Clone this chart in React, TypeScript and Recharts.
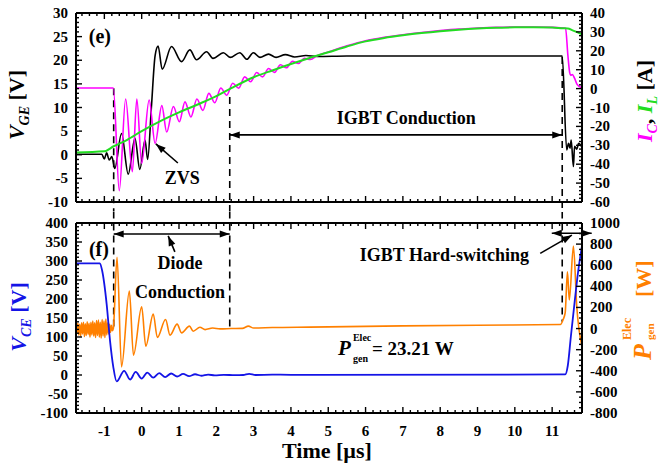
import React from "react";
import { LineChart, Line, XAxis, YAxis, ReferenceLine, ReferenceDot } from "recharts";

type Pt = [number, number];

// (e) gate voltage [V], left axis
const vGE: Pt[] = [
  [-1.76, 0.1], [-1.07, 0.1], [-1.0, -0.9], [-0.94, 0.4], [-0.87, -1.1], [-0.8, -0.4],
  [-0.72, -2.9], [-0.54, 4.5], [-0.36, -4.1], [-0.18, 3.5], [-0.05, -3.1], [0.09, 3.1],
  [0.16, -1.0], [0.26, 10], [0.36, 21], [0.44, 23], [0.55, 18.1], [0.8, 22.9],
  [1.07, 19.7], [1.29, 22.2], [1.47, 20.1], [1.74, 21.8], [1.91, 20.4], [2.19, 21.6],
  [2.37, 20.6], [2.63, 21.6], [2.82, 20.2], [2.99, 21.6], [3.17, 20.6], [3.4, 21.3],
  [3.6, 20.6], [3.85, 21.2], [4.1, 20.7], [4.4, 21.0], [4.7, 20.8], [5.5, 20.9],
  [11.27, 20.9], [11.39, 1.0], [11.44, 2.4], [11.48, 1.4], [11.51, 3.1], [11.57, -2.5],
  [11.6, 1.8], [11.66, 1.2], [11.71, 2.4], [11.8, 1.6],
];

// (e) collector current [A], right axis
const iC: Pt[] = [
  [-1.76, 0.3], [-0.76, 0.3], [-0.6, -54], [-0.43, -5.5], [-0.25, -44], [-0.13, -5.5],
  [0.0, -39.5], [0.2, -6], [0.36, -29], [0.54, -9], [0.67, -23], [0.85, -9.5],
  [1.01, -17.5], [1.16, -7], [1.32, -15], [1.48, -5.5], [1.64, -11.5], [1.8, -2.5],
  [1.96, -7.5], [2.12, 0.3], [2.28, -3.5], [2.44, 2.8], [2.6, 0.2], [2.76, 6.2],
  [2.92, 3.6], [3.08, 8.5], [3.24, 6.2], [3.4, 10.6], [3.56, 8.6], [3.72, 12.6],
  [3.88, 11], [4.04, 14.5], [4.2, 13.3], [4.36, 16], [4.52, 15.4], [4.7, 17.4],
  [5.0, 19.4], [5.5, 22.6], [6, 25.3], [6.5, 27.1], [7, 28.5], [7.5, 29.7], [8, 30.7],
  [8.5, 31.5], [9, 32], [9.5, 32.4], [10, 32.6], [10.5, 32.6], [11, 32.4], [11.36, 31.9],
  [11.42, 18], [11.47, 8.5], [11.5, 7], [11.54, 7.5], [11.6, 5.5], [11.66, 2.5],
  [11.72, 1.2], [11.8, 0.5],
];

// (e) inductor current [A], right axis
const iL: Pt[] = [
  [-1.76, -33.8], [-1.0, -33.2], [-0.75, -30.5], [-0.4, -27.2], [0.0, -22.5], [0.5, -17.2],
  [1.0, -12.6], [1.5, -8.4], [2.0, -4], [2.4, 0.2], [3, 6], [3.5, 9.6], [4, 13],
  [4.5, 16.2], [5, 19.2], [5.5, 22.3], [6, 25], [6.5, 26.8], [7, 28.2], [7.5, 29.4],
  [8, 30.4], [8.5, 31.2], [9, 31.8], [9.5, 32.2], [10, 32.4], [10.5, 32.5], [11, 32.3],
  [11.3, 31.9], [11.42, 31.8], [11.55, 30.8], [11.7, 29.6], [11.8, 28.7],
];

// (f) collector-emitter voltage [V], left axis
const vCE: Pt[] = [
  [-1.76, 294], [-1.12, 294], [-1.06, 275], [-0.94, 188], [-0.85, 92], [-0.76, 21],
  [-0.67, -17], [-0.47, 11], [-0.31, -12], [-0.16, 8], [0.0, -9.5], [0.15, 6.5],
  [0.31, -7], [0.47, 5], [0.63, -5.5], [0.79, 4], [0.95, -4], [1.11, 3], [1.27, -3],
  [1.43, 2], [1.6, -2], [1.78, 1.2], [1.96, -1.2], [2.2, 0.5], [2.5, -0.5], [2.72, 0],
  [2.88, 3], [3.05, 0], [3.5, 0.8], [4.5, 0.3], [11.35, 1.5], [11.42, 25], [11.5, 100],
  [11.6, 190], [11.7, 275], [11.8, 340],
];

// (f) generated electrical power [W], right axis
const pGen: Pt[] = [
  [-1.76, 30], [-1.735, -45], [-1.71, 50], [-1.685, -60], [-1.66, 40], [-1.635, -70],
  [-1.61, 55], [-1.585, -50], [-1.56, 60], [-1.535, -75], [-1.51, 45], [-1.485, -65],
  [-1.46, 65], [-1.435, -55], [-1.41, 50], [-1.385, -80], [-1.36, 60], [-1.335, -60],
  [-1.31, 70], [-1.285, -70], [-1.26, 55], [-1.235, -85], [-1.21, 75], [-1.185, -65],
  [-1.16, 80], [-1.135, -80], [-1.11, 60], [-1.085, -90], [-1.06, 85], [-1.035, -70],
  [-1.01, 70], [-0.985, -85], [-0.96, 90], [-0.935, -60], [-0.91, 55], [-0.885, -50],
  [-0.86, 40], [-0.835, -35], [-0.81, 30], [-0.785, -20], [-0.76, 0],
  [-0.66, 675], [-0.54, -363], [-0.33, 355], [-0.22, -252], [0.0, 206], [0.11, -167],
  [0.31, 137], [0.42, -84], [0.64, 86], [0.76, -62], [0.95, 42], [1.07, -41], [1.28, 23],
  [1.38, -25], [1.56, 12], [1.7, -10], [1.9, 5], [2.1, -3], [2.4, 0], [2.7, 2],
  [2.86, 23], [3.0, 5], [3.5, 10], [4.5, 14], [5.5, 18], [7, 25], [9, 32], [11.22, 38],
  [11.3, 90], [11.35, 150], [11.41, 538], [11.46, 270], [11.57, 782], [11.66, 206],
  [11.8, -173],
];

const xLabels = [-1, 0, 1, 2, 3, 4, 5, 6, 7, 8, 9, 10, 11];
const vgeLabels = [-10, -5, 0, 5, 10, 15, 20, 25, 30];
const iLabels = [-60, -50, -40, -30, -20, -10, 0, 10, 20, 30, 40];
const vceLabels = [-100, -50, 0, 50, 100, 150, 200, 250, 300, 350, 400];
const pLabels = [-800, -600, -400, -200, 0, 200, 400, 600, 800, 1000];

const T_DOMAIN: [number, number] = [-1.76, 11.8];

// annotations, in data coordinates (time, left-axis value)
const topNotes = [
  { t: -1.12, v: 25.2, text: "(e)", size: 20 },
  { t: 1.09, v: -4.9, text: "ZVS", size: 18 },
  { t: 7.09, v: 7.8, text: "IGBT Conduction", size: 18 },
];
const bottomNotes = [
  { t: -1.145, v: 331, text: "(f)", size: 20 },
  { t: 1.03, v: 295, text: "Diode", size: 18 },
  { t: 1.03, v: 219, text: "Conduction", size: 18 },
  { t: 8.11, v: 316, text: "IGBT Hard-switching", size: 18 },
];
const topDashes = [
  { t: -0.75, from: 14.1, to: -12 },
  { t: 2.36, from: 12.2, to: -12 },
  { t: 11.27, from: 20.7, to: -12 },
];
const bottomDashes = [
  { t: -0.75, from: 430, to: 123 },
  { t: 2.36, from: 430, to: 123 },
  { t: 11.27, from: 430, to: 140 },
];
const topArrows = [
  { a: [2.36, 4.2], b: [11.27, 4.2], both: true },
  { a: [0.97, -1.75], b: [0.38, 2.3], both: false },
];
const bottomArrows = [
  { a: [-0.75, 371], b: [2.36, 371], both: true },
  { a: [0.89, 324], b: [0.71, 366], both: false },
  { a: [10.68, 320], b: [11.53, 368], both: false },
  { a: [10.99, 373], b: [12.06, 373], both: true },
];

const FONT = "'Liberation Serif', 'Times New Roman', serif";
const AXIS = { stroke: "#000", strokeWidth: 2 };
const MAGENTA = "#ff00ff";
const GREEN = "#22dd22";
const BLUE = "#1414e6";
const ORANGE = "#ff8000";

const steps = (lo: number, hi: number, step: number) => {
  const out: number[] = [];
  const n = Math.round((hi - lo) / step);
  for (let i = 0; i <= n; i++) out.push(Math.round((lo + i * step) * 1000) / 1000);
  return out;
};

const xTicks = steps(-1.6, 11.8, 0.2);
const vgeTicks = steps(-10, 30, 1);
const iTicks = steps(-60, 40, 2);
const vceTicks = steps(-100, 400, 10);
const pTicks = steps(-800, 1000, 50);

const rows = (pts: Pt[]) => pts.map(([t, v]) => ({ t, v }));

// inward tick marks plus bold labels
const tickFn =
  (side: "bottom" | "top" | "left" | "right", majors: number[], showText: boolean) =>
  (p: any) => {
    const v = p.payload.value;
    const major = majors.some((m) => Math.abs(m - v) < 1e-6);
    const len = major ? 6 : 3;
    const { x, y } = p;
    let line;
    let label = null;
    if (side === "bottom") {
      line = <line x1={x} x2={x} y1={y} y2={y - len} />;
      if (showText && major)
        label = (
          <text x={x} y={y + 18} textAnchor="middle" dominantBaseline="central">
            {v}
          </text>
        );
    } else if (side === "top") {
      line = <line x1={x} x2={x} y1={y} y2={y + len} />;
    } else if (side === "left") {
      line = <line x1={x} x2={x + len} y1={y} y2={y} />;
      if (showText && major)
        label = (
          <text x={x - 8} y={y} textAnchor="end" dominantBaseline="central">
            {v}
          </text>
        );
    } else {
      line = <line x1={x} x2={x - len} y1={y} y2={y} />;
      if (showText && major)
        label = (
          <text x={x + 8} y={y} textAnchor="start" dominantBaseline="central">
            {v}
          </text>
        );
    }
    return (
      <g stroke="#000" strokeWidth={1.4}>
        {line}
        {label && (
          <g stroke="none" fill="#000" fontFamily={FONT} fontWeight="bold" fontSize={15}>
            {label}
          </g>
        )}
      </g>
    );
  };

const noteShape = (text: string, size: number) => (p: any) => (
  <text
    x={p.cx}
    y={p.cy}
    textAnchor="middle"
    dominantBaseline="central"
    fontFamily={FONT}
    fontWeight="bold"
    fontSize={size}
    fill="#000"
  >
    {text}
  </text>
);

const arrowShape = (both: boolean) => (p: any) => {
  const { x1, y1, x2, y2 } = p;
  const L = Math.hypot(x2 - x1, y2 - y1) || 1;
  const ux = (x2 - x1) / L;
  const uy = (y2 - y1) / L;
  const head = (tx: number, ty: number, dx: number, dy: number) => {
    const bx = tx - dx * 10;
    const by = ty - dy * 10;
    const nx = -dy * 3.5;
    const ny = dx * 3.5;
    return (
      <polygon
        points={`${tx},${ty} ${bx + nx},${by + ny} ${bx - nx},${by - ny}`}
        fill="#000"
        stroke="none"
      />
    );
  };
  return (
    <g>
      <line x1={x1} y1={y1} x2={x2} y2={y2} stroke="#000" strokeWidth={1.6} />
      {both && head(x1, y1, -ux, -uy)}
      {head(x2, y2, ux, uy)}
    </g>
  );
};

const pShape = (p: any) => (
  <text x={p.cx} y={p.cy} fontFamily={FONT} fontWeight="bold" fill="#000">
    <tspan fontStyle="italic" fontSize={21}>P</tspan>
    <tspan x={p.cx + 15} dy={-14} fontSize={10}>Elec</tspan>
    <tspan x={p.cx + 15} dy={21} fontSize={10}>gen</tspan>
    <tspan x={p.cx + 34} dy={-7} fontSize={19}>= 23.21 W</tspan>
  </text>
);

export default function App() {
  const xCommon = {
    type: "number" as const,
    dataKey: "t",
    domain: T_DOMAIN,
    allowDataOverflow: true,
    ticks: xTicks,
    interval: 0 as const,
    tickLine: false,
    tickSize: 0,
    tickMargin: 0,
    axisLine: AXIS,
  };
  const yCommon = {
    type: "number" as const,
    allowDataOverflow: true,
    interval: 0 as const,
    tickLine: false,
    tickSize: 0,
    tickMargin: 0,
    axisLine: AXIS,
  };

  return (
    <div style={{ position: "absolute", left: 0, top: 0, width: 660, height: 466, background: "#fff" }}>
      <div style={{ position: "absolute", left: 0, top: 0 }}>
        <LineChart width={660} height={212} margin={{ top: 0, right: 0, bottom: 0, left: 0 }}>
          <XAxis xAxisId="b" {...xCommon} height={10} tick={tickFn("bottom", xLabels, false)} />
          <XAxis xAxisId="t" orientation="top" {...xCommon} height={13} tick={tickFn("top", xLabels, false)} />
          <YAxis yAxisId="l" {...yCommon} domain={[-10, 30]} ticks={vgeTicks} width={76} tick={tickFn("left", vgeLabels, true)} />
          <YAxis yAxisId="r" orientation="right" {...yCommon} domain={[-60, 40]} ticks={iTicks} width={78} tick={tickFn("right", iLabels, true)} />
          {topDashes.map((d, i) => (
            <ReferenceLine
              key={`td${i}`}
              xAxisId="b"
              yAxisId="l"
              ifOverflow="visible"
              segment={[{ x: d.t, y: d.from }, { x: d.t, y: d.to }]}
              stroke="#000"
              strokeWidth={1.6}
              strokeDasharray="7 5"
            />
          ))}
          <Line xAxisId="b" yAxisId="l" data={rows(vGE)} dataKey="v" type="monotone" stroke="#000" strokeWidth={1.6} dot={false} activeDot={false} isAnimationActive={false} />
          <Line xAxisId="b" yAxisId="r" data={rows(iC)} dataKey="v" type="monotone" stroke={MAGENTA} strokeWidth={1.6} dot={false} activeDot={false} isAnimationActive={false} />
          <Line xAxisId="b" yAxisId="r" data={rows(iL)} dataKey="v" type="monotone" stroke={GREEN} strokeWidth={2} dot={false} activeDot={false} isAnimationActive={false} />
          {topArrows.map((a, i) => (
            <ReferenceLine
              key={`ta${i}`}
              xAxisId="b"
              yAxisId="l"
              ifOverflow="visible"
              segment={[{ x: a.a[0], y: a.a[1] }, { x: a.b[0], y: a.b[1] }]}
              shape={arrowShape(a.both)}
            />
          ))}
          {topNotes.map((n, i) => (
            <ReferenceDot key={`tn${i}`} xAxisId="b" yAxisId="l" x={n.t} y={n.v} ifOverflow="visible" shape={noteShape(n.text, n.size)} />
          ))}
        </LineChart>
      </div>

      <div style={{ position: "absolute", left: 0, top: 212 }}>
        <LineChart width={660} height={254} margin={{ top: 0, right: 0, bottom: 0, left: 0 }}>
          <XAxis xAxisId="b" {...xCommon} height={53} tick={tickFn("bottom", xLabels, true)} />
          <XAxis xAxisId="t" orientation="top" {...xCommon} height={11} tick={tickFn("top", xLabels, false)} />
          <YAxis yAxisId="l" {...yCommon} domain={[-100, 400]} ticks={vceTicks} width={76} tick={tickFn("left", vceLabels, true)} />
          <YAxis yAxisId="r" orientation="right" {...yCommon} domain={[-800, 1000]} ticks={pTicks} width={78} tick={tickFn("right", pLabels, true)} />
          {bottomDashes.map((d, i) => (
            <ReferenceLine
              key={`bd${i}`}
              xAxisId="b"
              yAxisId="l"
              ifOverflow="visible"
              segment={[{ x: d.t, y: d.from }, { x: d.t, y: d.to }]}
              stroke="#000"
              strokeWidth={1.6}
              strokeDasharray="7 5"
            />
          ))}
          <Line xAxisId="b" yAxisId="r" data={rows(pGen)} dataKey="v" type="monotone" stroke={ORANGE} strokeWidth={1.6} dot={false} activeDot={false} isAnimationActive={false} />
          <Line xAxisId="b" yAxisId="l" data={rows(vCE)} dataKey="v" type="monotone" stroke={BLUE} strokeWidth={1.8} dot={false} activeDot={false} isAnimationActive={false} />
          {bottomArrows.map((a, i) => (
            <ReferenceLine
              key={`ba${i}`}
              xAxisId="b"
              yAxisId="l"
              ifOverflow="visible"
              segment={[{ x: a.a[0], y: a.a[1] }, { x: a.b[0], y: a.b[1] }]}
              shape={arrowShape(a.both)}
            />
          ))}
          {bottomNotes.map((n, i) => (
            <ReferenceDot key={`bn${i}`} xAxisId="b" yAxisId="l" x={n.t} y={n.v} ifOverflow="visible" shape={noteShape(n.text, n.size)} />
          ))}
          <ReferenceDot xAxisId="b" yAxisId="l" x={5.26} y={52} ifOverflow="visible" shape={pShape} />
        </LineChart>
      </div>

      {/* axis titles */}
      <svg width={660} height={466} style={{ position: "absolute", left: 0, top: 0, pointerEvents: "none" }}>
        <g fontFamily={FONT} fontWeight="bold">
          <text transform="translate(24,105) rotate(-90)" textAnchor="middle" fontSize={22} fill="#000">
            <tspan fontStyle="italic">V</tspan>
            <tspan fontStyle="italic" fontSize={14} dy={5}>GE</tspan>
            <tspan dy={-5}> [V]</tspan>
          </text>
          <text transform="translate(26,317) rotate(-90)" textAnchor="middle" fontSize={22} fill={BLUE}>
            <tspan fontStyle="italic">V</tspan>
            <tspan fontStyle="italic" fontSize={14} dy={5}>CE</tspan>
            <tspan dy={-5}> [V]</tspan>
          </text>
          <text transform="translate(652,101) rotate(-90)" textAnchor="middle" fontSize={22}>
            <tspan fontStyle="italic" fill={MAGENTA}>I</tspan>
            <tspan fontStyle="italic" fontSize={14} dy={5} fill={MAGENTA}>C</tspan>
            <tspan dy={-5} fill="#000">, </tspan>
            <tspan fontStyle="italic" fill={GREEN}>I</tspan>
            <tspan fontStyle="italic" fontSize={14} dy={5} fill={GREEN}>L</tspan>
            <tspan dy={-5} fill="#000"> [A]</tspan>
          </text>
          <g transform="translate(651,360) rotate(-90)" fill={ORANGE}>
            <text x={0} y={0} fontStyle="italic" fontSize={26}>P</text>
            <text x={20} y={-20} fontSize={12}>Elec</text>
            <text x={20} y={3} fontSize={11}>gen</text>
            <text x={63} y={0} fontSize={22}>[W]</text>
          </g>
          <text x={327} y={458} textAnchor="middle" fontSize={22} fill="#000">
            Time [µs]
          </text>
        </g>
      </svg>
    </div>
  );
}
